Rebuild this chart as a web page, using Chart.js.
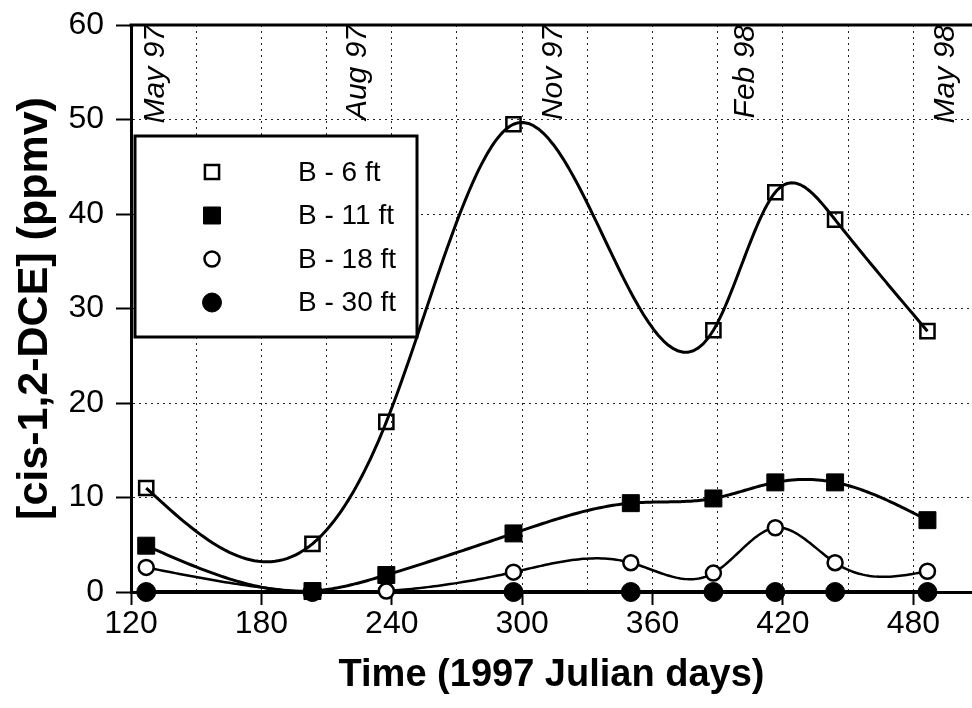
<!DOCTYPE html>
<html>
<head>
<meta charset="utf-8">
<title>cis-1,2-DCE, well B</title>
<script src="https://cdn.jsdelivr.net/npm/chart.js@4.4.1/dist/chart.umd.min.js"></script>
<style>
  html, body { margin: 0; padding: 0; background: #fff; }
  #wrap { width: 972px; height: 708px; }
</style>
</head>
<body>
<div id="wrap"><canvas id="dceChart" width="972" height="708"></canvas></div>
<script>
// sampling days (1997 Julian days) and concentrations in ppmv, null = no sample
const sampleDays = [127, 203.5, 237.5, 296, 350, 388, 416.5, 444, 486.5];
const seriesNames = ['B - 6 ft', 'B - 11 ft', 'B - 18 ft', 'B - 30 ft'];
const b6ft  = [11.0, 5.1, 18.0, 49.5, null, 27.7, 42.3, 39.4, 27.6];
const b11ft = [4.9, 0.1, 1.8, 6.2, 9.4, 9.9, 11.6, 11.6, 7.6];
const b18ft = [2.6, 0.0, 0.1, 2.1, 3.1, 2.0, 6.8, 3.1, 2.2];
const b30ft = [0.0, 0.0, null, 0.0, 0.0, 0.0, 0.0, 0.0, 0.0];

// x grid every 30 days, labelled every 60
const xGridDays = [120, 150, 180, 210, 240, 270, 300, 330, 360, 390, 420, 450, 480];
const xLabelDays = [120, 180, 240, 300, 360, 420, 480];

// month markers along the top of the plot
const monthLabels = ['May 97', 'Aug 97', 'Nov 97', 'Feb 98', 'May 98'];
const monthDays = [131.5, 224.5, 314.3, 402.7, 494.8];

const FONT = '"Liberation Sans", Arial, sans-serif';

function toPoints(vals) {
  return sampleDays.map((d, i) => ({ x: d, y: vals[i] })).filter(p => p.y !== null);
}

// second derivatives of a natural cubic spline through xs/ys
function splineCoeffs(xs, ys) {
  const n = xs.length;
  const m = new Array(n).fill(0);
  if (n < 3) return m;
  const a = [], b = [], c = [], d = [];
  for (let i = 1; i < n - 1; i++) {
    const h0 = xs[i] - xs[i - 1], h1 = xs[i + 1] - xs[i];
    a.push(h0); b.push(2 * (h0 + h1)); c.push(h1);
    d.push(6 * ((ys[i + 1] - ys[i]) / h1 - (ys[i] - ys[i - 1]) / h0));
  }
  const k = b.length;
  for (let i = 1; i < k; i++) {
    const w = a[i] / b[i - 1];
    b[i] -= w * c[i - 1];
    d[i] -= w * d[i - 1];
  }
  const sol = new Array(k);
  sol[k - 1] = d[k - 1] / b[k - 1];
  for (let i = k - 2; i >= 0; i--) sol[i] = (d[i] - c[i] * sol[i + 1]) / b[i];
  for (let i = 0; i < k; i++) m[i + 1] = sol[i];
  return m;
}

// smooth curves drawn under the markers
const splinePlugin = {
  id: 'splineLines',
  beforeDatasetsDraw(chart) {
    const { ctx, chartArea, scales: { x, y } } = chart;
    ctx.save();
    ctx.beginPath();
    ctx.rect(chartArea.left, chartArea.top - 3, chartArea.width, chartArea.height + 6);
    ctx.clip();
    chart.data.datasets.forEach(ds => {
      const xs = ds.data.map(p => p.x), ys = ds.data.map(p => p.y);
      const m = splineCoeffs(xs, ys);
      ctx.beginPath();
      for (let i = 0; i < xs.length - 1; i++) {
        const h = xs[i + 1] - xs[i];
        const steps = 40;
        for (let s = 0; s <= steps; s++) {
          const t = xs[i] + h * s / steps;
          const A = xs[i + 1] - t, B = t - xs[i];
          const v = m[i] * A * A * A / (6 * h) + m[i + 1] * B * B * B / (6 * h)
            + (ys[i] / h - m[i] * h / 6) * A + (ys[i + 1] / h - m[i + 1] * h / 6) * B;
          const px = x.getPixelForValue(t), py = y.getPixelForValue(v);
          if (i === 0 && s === 0) ctx.moveTo(px, py); else ctx.lineTo(px, py);
        }
      }
      ctx.lineWidth = ds.curveWidth;
      ctx.strokeStyle = '#000';
      ctx.lineJoin = 'round';
      ctx.stroke();
    });
    ctx.restore();
  }
};

function drawMarker(ctx, ds, cx, cy) {
  ctx.beginPath();
  if (ds.pointStyle === 'rect') {
    const half = Math.SQRT1_2 * ds.pointRadius;
    ctx.rect(cx - half, cy - half, half * 2, half * 2);
  } else {
    ctx.arc(cx, cy, ds.pointRadius, 0, Math.PI * 2);
  }
  ctx.fillStyle = ds.pointBackgroundColor;
  ctx.fill();
  ctx.lineWidth = ds.pointBorderWidth;
  ctx.strokeStyle = ds.pointBorderColor;
  ctx.stroke();
}

// top frame line, month labels and the boxed legend
const framePlugin = {
  id: 'frameAndLegend',
  afterDraw(chart) {
    const { ctx, chartArea, scales: { x } } = chart;
    ctx.save();
    ctx.strokeStyle = '#000';
    ctx.lineWidth = 3;
    ctx.beginPath();
    ctx.moveTo(chartArea.left - 1.5, chartArea.top);
    ctx.lineTo(chartArea.right, chartArea.top);
    ctx.stroke();

    ctx.fillStyle = '#000';
    ctx.font = 'italic 30px ' + FONT;
    ctx.textAlign = 'right';
    ctx.textBaseline = 'middle';
    monthLabels.forEach((label, i) => {
      ctx.save();
      ctx.translate(x.getPixelForValue(monthDays[i]), chartArea.top);
      ctx.rotate(-Math.PI / 2);
      ctx.fillText(label, 0, 0);
      ctx.restore();
    });

    const bx = chartArea.left + 4, by = chartArea.top + 111, bw = 282, bh = 201;
    ctx.fillStyle = '#fff';
    ctx.fillRect(bx, by, bw, bh);
    ctx.lineWidth = 3;
    ctx.strokeRect(bx, by, bw, bh);
    ctx.font = '28px ' + FONT;
    ctx.textAlign = 'left';
    chart.data.datasets.forEach((ds, i) => {
      const rowY = by + 36 + i * 43.5;
      drawMarker(ctx, ds, bx + 77, rowY);
      ctx.fillStyle = '#000';
      ctx.fillText(ds.label, bx + 163, rowY + 1);
    });
    ctx.restore();
  }
};

const datasets = [
  { label: seriesNames[0], data: toPoints(b6ft), pointStyle: 'rect', pointRadius: 10,
    pointBorderWidth: 2.5, pointBackgroundColor: 'rgba(0,0,0,0)', pointBorderColor: '#000', curveWidth: 3 },
  { label: seriesNames[1], data: toPoints(b11ft), pointStyle: 'rect', pointRadius: 12,
    pointBorderWidth: 1, pointBackgroundColor: '#000', pointBorderColor: '#000', curveWidth: 3 },
  { label: seriesNames[2], data: toPoints(b18ft), pointStyle: 'circle', pointRadius: 7.5,
    pointBorderWidth: 2.5, pointBackgroundColor: '#fff', pointBorderColor: '#000', curveWidth: 2.5 },
  { label: seriesNames[3], data: toPoints(b30ft), pointStyle: 'circle', pointRadius: 9.5,
    pointBorderWidth: 1, pointBackgroundColor: '#000', pointBorderColor: '#000', curveWidth: 4 }
].map(ds => Object.assign(ds, { showLine: false, clip: false, pointHoverRadius: ds.pointRadius }));

new Chart(document.getElementById('dceChart'), {
  type: 'line',
  data: { datasets },
  plugins: [splinePlugin, framePlugin],
  options: {
    responsive: false,
    animation: false,
    events: [],
    layout: { autoPadding: false, padding: { top: 25, right: 0, bottom: 0, left: 0 } },
    plugins: { legend: { display: false }, tooltip: { enabled: false } },
    scales: {
      x: {
        type: 'linear',
        min: 120,
        max: 507,
        afterBuildTicks: s => { s.ticks = xGridDays.map(v => ({ value: v })); },
        afterFit: s => { s.height = 116; s.paddingLeft = 0; s.paddingRight = 0; },
        ticks: {
          autoSkip: false, maxRotation: 0, padding: 0, color: '#000',
          font: { size: 32, family: FONT },
          callback: v => (xLabelDays.includes(v) ? v : '')
        },
        grid: {
          color: c => (c.tick && c.tick.value > 120 ? '#222' : 'rgba(0,0,0,0)'),
          lineWidth: 1,
          tickLength: 13,
          tickWidth: 2,
          tickColor: c => (c.tick && xLabelDays.includes(c.tick.value) ? '#000' : 'rgba(0,0,0,0)')
        },
        border: { color: '#000', width: 3, dash: [2, 4] },
        title: {
          display: true, text: 'Time (1997 Julian days)', color: '#000',
          font: { size: 38, weight: 'bold', family: FONT }, padding: { top: 0, bottom: 10 }
        }
      },
      y: {
        min: 0,
        max: 60,
        afterFit: s => { s.width = 131; s.paddingTop = 0; s.paddingBottom = 0; },
        ticks: { stepSize: 10, padding: 12, color: '#000', font: { size: 32, family: FONT } },
        grid: {
          color: c => (c.tick && c.tick.value > 0 && c.tick.value < 60 ? '#222' : 'rgba(0,0,0,0)'),
          lineWidth: 1,
          tickLength: 15,
          tickWidth: 2,
          tickColor: '#000'
        },
        border: { color: '#000', width: 3, dash: [2, 4] },
        title: {
          display: true, text: '[cis-1,2-DCE] (ppmv)', color: '#000',
          font: { size: 43, weight: 'bold', family: FONT }, padding: { top: 9, bottom: 0 }
        }
      }
    }
  }
});
</script>
</body>
</html>
